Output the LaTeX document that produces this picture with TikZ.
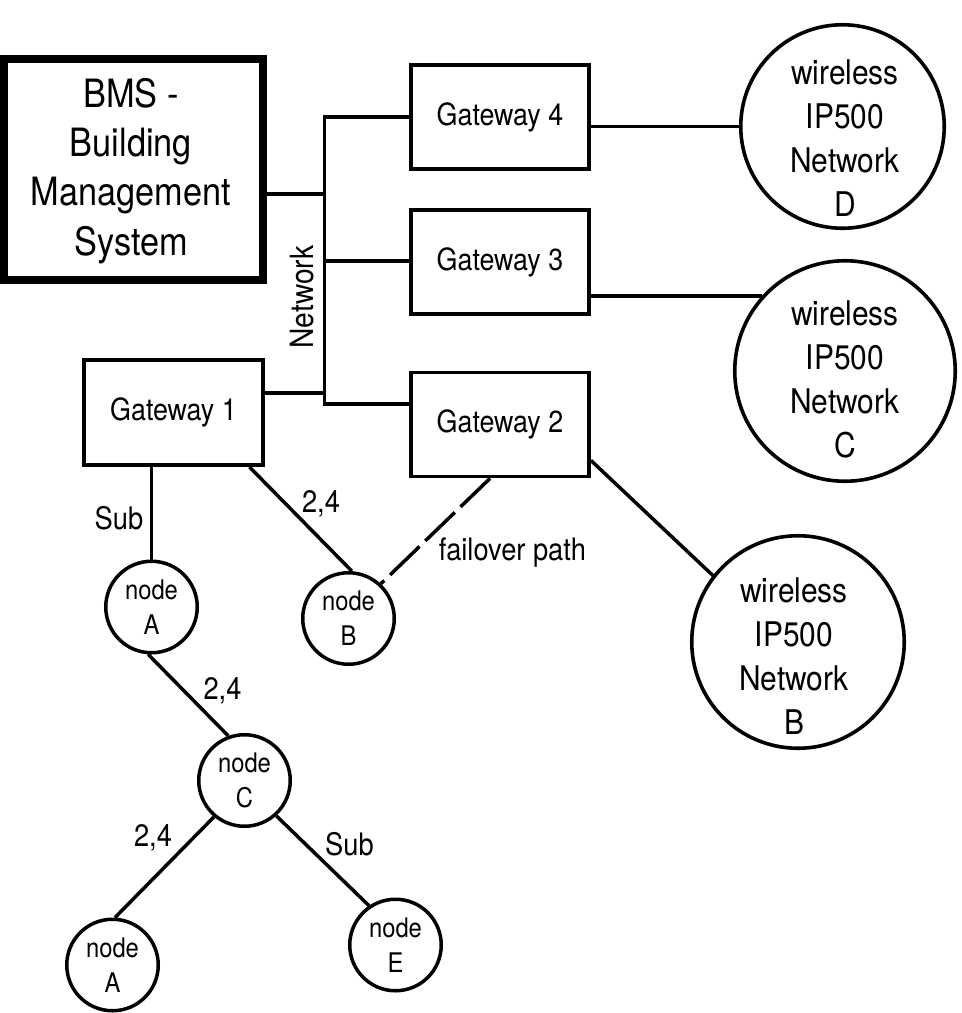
\documentclass[tikz,border=0pt]{standalone}
\usepackage{fontspec}
\setmainfont{TeX Gyre Heros}[FakeStretch=0.88]
\usetikzlibrary{calc}
\tikzset{
  bmsbox/.style={draw, line width=8pt, minimum width=259pt, minimum height=221pt, inner sep=0pt},
  bmstext/.style={align=center, inner sep=0pt, font=\fontsize{39}{49.3}\selectfont},
  gw/.style={draw, line width=3.8pt, minimum width=178pt, minimum height=104pt, inner sep=0pt, font=\fontsize{30.5}{36}\selectfont},
  wnet/.style={draw, circle, line width=3.6pt, inner sep=0pt},
  wtext/.style={align=center, inner sep=0pt, font=\fontsize{34}{44}\selectfont},
  nd/.style={draw, circle, line width=3.5pt, minimum size=91.5pt, inner sep=0pt, align=center, font=\fontsize{27}{35}\selectfont},
  conn/.style={line width=3.5pt},
  failover/.style={line width=3.5pt, dash pattern=on 41pt off 8pt},
  lbl/.style={inner sep=0pt, font=\fontsize{31}{36}\selectfont},
}
\begin{document}
\begin{tikzpicture}[x=1pt,y=-1pt]
\useasboundingbox (0,0) rectangle (962,1013);

% BMS
\node[bmsbox] (bms) at (133.5,169.5) {};
\node[bmstext] (bmst) at (131,171) {BMS -\\Building\\Management\\System};

% Gateways
\node[gw] (g4) at (500,117) {Gateway 4};
\node[gw] (g3) at (500,262) {Gateway 3};
\node[gw] (g2) at (500,424.5) {Gateway 2};
\node[gw, minimum width=179pt, minimum height=105pt] (g1) at (173.5,412.5) {Gateway 1};

% wireless networks
\node[wnet, minimum size=203.5pt] (wd) at (842.5,126.5) {};
\node[wtext] (wdt) at (845,138) {wireless\\IP500\\Network\\D};
\node[wnet, minimum size=220.5pt] (wc) at (845,371) {};
\node[wtext] (wct) at (845,379.5) {wireless\\IP500\\Network\\C};
\node[wnet, minimum size=212.5pt] (wb) at (798,642) {};
\node[wtext] (wbt) at (794,656.5) {wireless\\IP500\\Network\\B};

% small nodes
\node[nd] (na) at (151.5,607) {node\\A};
\node[nd] (nb) at (348.5,618.5) {node\\B};
\node[nd] (nc) at (244.5,780.5) {node\\C};
\node[nd] (na2) at (112.5,965) {node\\A};
\node[nd] (ne) at (395.5,945) {node\\E};

% network bus
\coordinate (j4) at (324.5,117);
\coordinate (jb) at (324.5,194);
\coordinate (j3) at (324.5,261);
\coordinate (j1) at (324.5,393);
\coordinate (j2) at (324.5,404);
\draw[conn] (g4.west) -- (j4) -- (j2) -- (g2.west |- j2);
\draw[conn] (bms.east |- jb) -- (jb);
\draw[conn] (j3) -- (g3.west |- j3);
\draw[conn] (g1.east |- j1) -- (j1);
\node[lbl, rotate=90, font=\fontsize{32}{36}\selectfont] (netl) at (302,297) {Network};

% gateways to wireless networks
\draw[conn] (g4.east |- wd.west) -- (wd.west);
\draw[conn] (g3.east |- wc.138) -- (wc.138);
\draw[conn] ($(g2.south east)+(0,-18)$) -- (wb.142.6);

% gateway 1 tree
\draw[conn] (na.north |- g1.south) -- (na.north);
\draw[conn] ($(g1.south east)+(-15.5,0)$) -- (nb.86);
\draw[failover] ($(g2.south)+(-10,0)$) -- (nb.47);
\draw[conn] (na.266) -- (nc.110);
\draw[conn] (nc.230.7) -- (na2.87);
\draw[conn] (nc.312.5) -- (ne.124);

% labels
\node[lbl] (lsub1) at (119,518) {Sub};
\node[lbl] (l24a) at (321,504) {2,4};
\node[lbl] (lfail) at (512.5,553) {failover path};
\node[lbl] (l24b) at (222.5,691) {2,4};
\node[lbl] (l24c) at (153,838) {2,4};
\node[lbl] (lsub2) at (349.5,844) {Sub};
\end{tikzpicture}
\end{document}
